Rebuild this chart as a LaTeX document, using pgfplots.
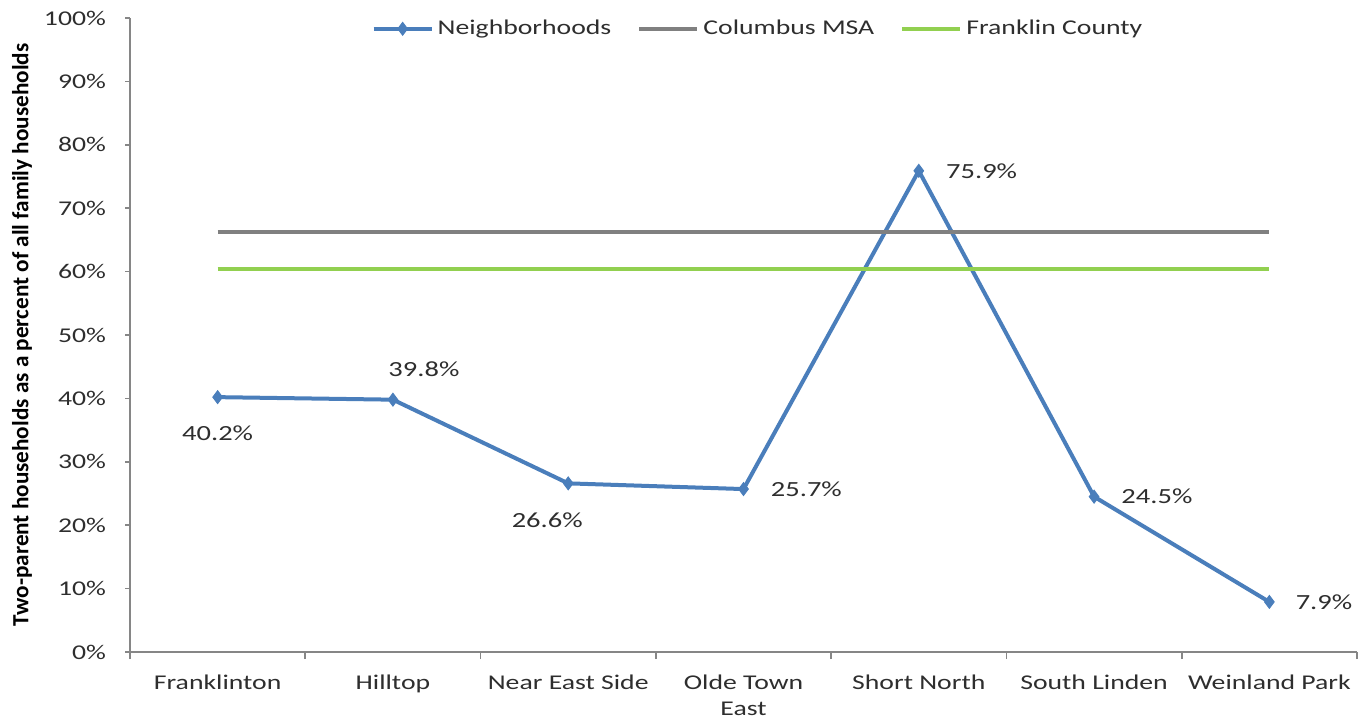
\documentclass[border=0pt]{standalone}
\usepackage{fontspec}
\setmainfont[FakeStretch=1.32]{Carlito}
\newfontfamily\calibb{Carlito}
\usepackage{pgfplots}
\pgfplotsset{compat=1.18}
\definecolor{nbblue}{HTML}{4A7EBB}
\definecolor{msagray}{HTML}{808080}
\definecolor{fcgreen}{HTML}{92D050}
\definecolor{axgray}{HTML}{868686}
\begin{document}
\begin{tikzpicture}
\begin{axis}[
  name=ax,
  scale only axis,
  width=613.5pt, height=317pt,
  xmin=-0.5, xmax=6.5,
  ymin=0, ymax=100,
  axis lines=left,
  axis line style={axgray, line width=0.8pt, -},
  xtick={0,1,2,3,4,5,6},
  xticklabels={Franklinton,Hilltop,Near East Side,{Olde Town\\East},Short North,South Linden,Weinland Park},
  x tick label style={font=\fontsize{10.5}{13}\selectfont, align=center, text=black!82, yshift=-5.5pt},
  major x tick style={draw=none},
  minor xtick={-0.5,0.5,1.5,2.5,3.5,4.5,5.5,6.5},
  minor tick length=3.5pt,
  minor x tick style={axgray, line width=0.8pt},
  ytick={0,10,...,100},
  yticklabel={\pgfmathprintnumber{\tick}\%},
  /pgf/number format/assume math mode=true,
  y tick label style={font=\fontsize{10.5}{13}\selectfont, text=black!82, xshift=-6pt},
  major tick length=2.5pt,
  tick align=outside,
  major y tick style={axgray, line width=0.8pt},
  ylabel={\calibb\bfseries Two-parent households as a percent of all family households},
  ylabel style={font=\fontsize{11.6}{14}\selectfont, at={(axis description cs:-0.088,0.5)}, anchor=center},
  legend style={draw=none, fill=none, legend columns=3, at={(0.5126,0.983)}, anchor=center,
    font=\fontsize{10.5}{13}\selectfont, text=black!82,
    /tikz/every even column/.append style={column sep=11pt},
    /tikz/every odd column/.append style={column sep=0pt}},
  legend image code/.code={\draw[#1] (0pt,0pt) -- (29pt,0pt); \draw[#1, only marks] plot coordinates {(14.5pt,0pt)};},
  clip=false,
]
\addplot[nbblue, line width=2pt, mark=diamond*, mark size=3.2pt, mark options={fill=nbblue, draw=nbblue, line width=0.5pt}]
  coordinates {(0,40.2) (1,39.8) (2,26.6) (3,25.7) (4,75.9) (5,24.5) (6,7.9)};
\addlegendentry{Neighborhoods}
\addplot[msagray, line width=2pt, mark=none] coordinates {(0,66.2) (6,66.2)};
\addlegendentry{Columbus MSA}
\addplot[fcgreen, line width=2pt, mark=none] coordinates {(0,60.4) (6,60.4)};
\addlegendentry{Franklin County}
\begin{scope}[every node/.style={font=\fontsize{10.8}{13}\selectfont, text=black!82}]
\node[anchor=center] at ([yshift=-18pt]axis cs:0,40.2) {40.2\%};
\node[anchor=center] at ([xshift=15.5pt,yshift=15pt]axis cs:1,39.8) {39.8\%};
\node[anchor=center] at ([xshift=-10.5pt,yshift=-18.5pt]axis cs:2,26.6) {26.6\%};
\node[anchor=west, inner sep=0pt] at ([xshift=13.5pt]axis cs:3,25.7) {25.7\%};
\node[anchor=west, inner sep=0pt] at ([xshift=13.5pt]axis cs:4,75.9) {75.9\%};
\node[anchor=west, inner sep=0pt] at ([xshift=13.5pt]axis cs:5,24.5) {24.5\%};
\node[anchor=west, inner sep=0pt] at ([xshift=13pt]axis cs:6,7.9) {7.9\%};
\end{scope}
\end{axis}
\pgfresetboundingbox
\useasboundingbox ([xshift=-65pt,yshift=-33.5pt]ax.south west) rectangle ([xshift=7.5pt,yshift=9pt]ax.north east);
\end{tikzpicture}
\end{document}
